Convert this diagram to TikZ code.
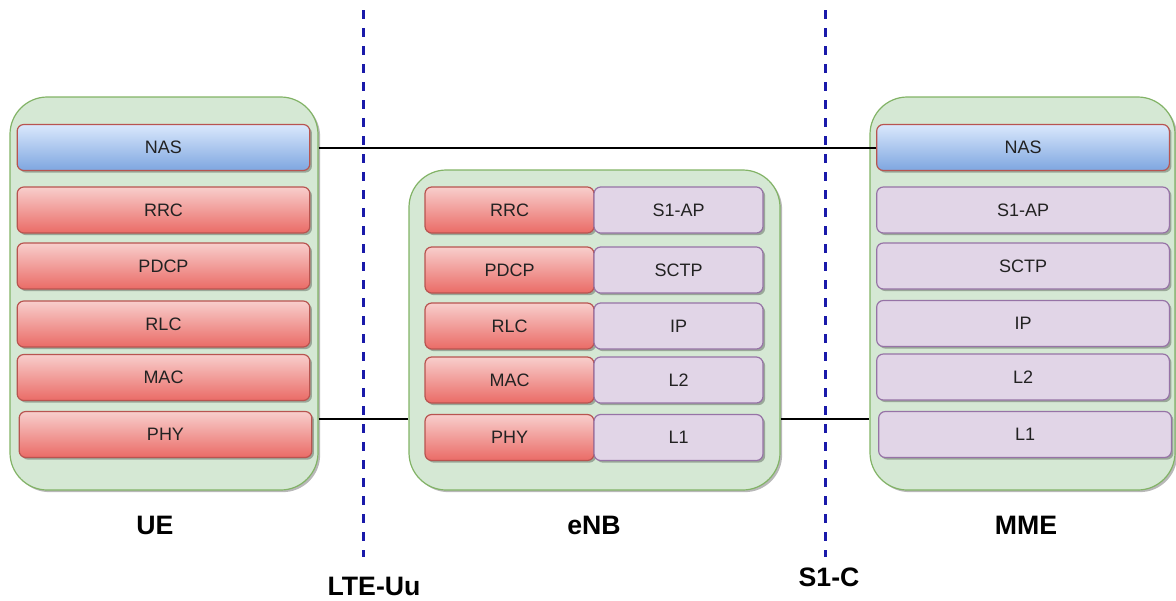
\documentclass[tikz,border=0pt]{standalone}
\usepackage{fontspec}
\setmainfont{Liberation Sans}
\usetikzlibrary{shadows}
\definecolor{contfill}{HTML}{D5E8D4}
\definecolor{contdraw}{HTML}{82B366}
\definecolor{redtop}{HTML}{F8CECC}
\definecolor{redbot}{HTML}{EA6B66}
\definecolor{reddraw}{HTML}{B85450}
\definecolor{bluetop}{HTML}{DAE8FC}
\definecolor{bluebot}{HTML}{7EA6E0}
\definecolor{purfill}{HTML}{E1D5E7}
\definecolor{purdraw}{HTML}{9673A6}
\definecolor{dashblue}{HTML}{1A1AAA}
\definecolor{txt}{HTML}{222222}
\tikzset{
  shd/.style={drop shadow={shadow xshift=1.6pt,shadow yshift=-1.6pt,opacity=0.28,fill=black}},
  container/.style={draw=contdraw,fill=contfill,line width=0.9pt,rounded corners=28pt,shd,inner sep=0pt},
  layer/.style={rounded corners=5pt,line width=0.9pt,minimum height=34.5pt,inner sep=0pt,font=\fontsize{13.5}{15}\selectfont,text=txt,shd},
  redl/.style={layer,draw=reddraw,top color=redtop,bottom color=redbot},
  bluel/.style={layer,draw=reddraw,top color=bluetop,bottom color=bluebot},
  purl/.style={layer,draw=purdraw,fill=purfill},
  wide/.style={minimum width=219.5pt},
  half/.style={minimum width=126.75pt},
  title/.style={font=\bfseries\fontsize{20}{24}\selectfont,text=black},
  iface/.style={draw=dashblue,line width=2.25pt,dash pattern=on 6.75pt off 6.75pt},
  link/.style={draw=black,line width=1.5pt}
}
\begin{document}
\begin{tikzpicture}[x=0.75pt,y=-0.75pt]
\useasboundingbox (0,0) rectangle (1176,600);
% containers
\node[container,minimum width=231pt,minimum height=294.75pt] (ue) at (164,293.5) {};
\node[container,minimum width=278.25pt,minimum height=240pt] (enb) at (594.5,330) {};
\node[container,minimum width=228.75pt,minimum height=294.75pt] (mme) at (1022.5,293.5) {};
% UE layers
\node[bluel,wide] (uenas) at (163.5,147.5) {NAS};
\node[redl,wide] (uerrc) at (163.5,210) {RRC};
\node[redl,wide] (uepdcp) at (163.5,266) {PDCP};
\node[redl,wide] (uerlc) at (163.5,324) {RLC};
\node[redl,wide] (uemac) at (163.5,377.5) {MAC};
\node[redl,wide] (uephy) at (165.5,434.5) {PHY};
% eNB layers
\node[redl,half] (enbrrc) at (509.5,210) {RRC};
\node[redl,half] (enbpdcp) at (509.5,270) {PDCP};
\node[redl,half] (enbrlc) at (509.5,326) {RLC};
\node[redl,half] (enbmac) at (509.5,380) {MAC};
\node[redl,half] (enbphy) at (509.5,437.5) {PHY};
\node[purl,half] (enbs1ap) at (678.5,210) {S1-AP};
\node[purl,half] (enbsctp) at (678.5,270) {SCTP};
\node[purl,half] (enbip) at (678.5,326) {IP};
\node[purl,half] (enbl2) at (678.5,380) {L2};
\node[purl,half] (enbl1) at (678.5,437.5) {L1};
% MME layers
\node[bluel,wide] (mmenas) at (1023,147.5) {NAS};
\node[purl,wide] (mmes1ap) at (1023,210) {S1-AP};
\node[purl,wide] (mmesctp) at (1023,266) {SCTP};
\node[purl,wide] (mmeip) at (1023,323.5) {IP};
\node[purl,wide] (mmel2) at (1023,377) {L2};
\node[purl,wide] (mmel1) at (1025,434.5) {L1};
% titles
\node[title] (uelabel) at (155,525) {UE};
\node[title] (enblabel) at (594,525) {eNB};
\node[title] (mmelabel) at (1026,525) {MME};
\node[title] (uulabel) at (374,586) {LTE-Uu};
\node[title] (s1label) at (829,577) {S1-C};
% interface lines
\coordinate (uutop) at (363,10);
\coordinate (uubot) at (363,557);
\coordinate (s1top) at (825,10);
\coordinate (s1bot) at (825,557);
\coordinate (phyy) at (0,418.5);
% connectors
\draw[link] (ue.east |- uenas) -- (mmenas.west);
\draw[link] (ue.east |- phyy) -- (enb.west |- phyy);
\draw[link] (enb.east |- phyy) -- (mme.west |- phyy);
\draw[iface] (uutop) -- (uubot);
\draw[iface] (s1top) -- (s1bot);
\end{tikzpicture}
\end{document}
